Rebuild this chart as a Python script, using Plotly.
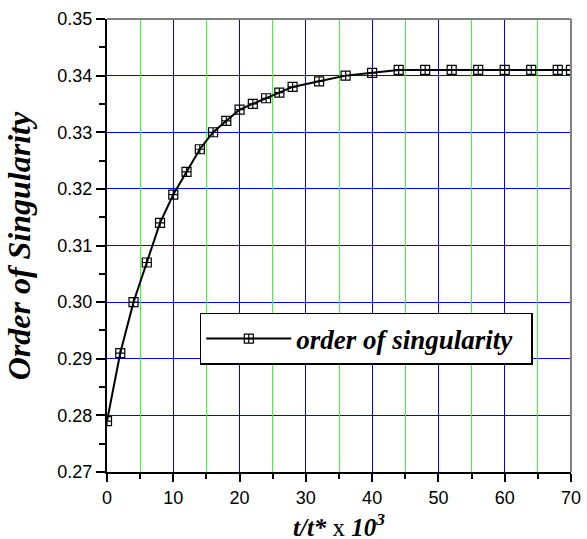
import plotly.graph_objects as go

t_values = [0, 2, 4, 6, 8, 10, 12, 14, 16, 18, 20, 22, 24, 26, 28, 32, 36, 40, 44, 48, 52, 56, 60, 64, 68, 70]
order_values = [0.279, 0.291, 0.300, 0.307, 0.314, 0.319, 0.323, 0.327, 0.330, 0.332, 0.334, 0.335,
                0.336, 0.337, 0.338, 0.339, 0.340, 0.3405, 0.341, 0.341, 0.341, 0.341, 0.341, 0.341, 0.341, 0.341]
series_name = "order of singularity"
x_title = "<b><i>t/t*</i></b> x <b><i>10<sup>3</sup></i></b>"
y_title = "<b><i>Order of Singularity</i></b>"

fig = go.Figure()
fig.add_trace(go.Scatter(
    x=t_values, y=order_values, mode="lines+markers",
    name="<b><i>" + series_name + "</i></b>&nbsp;&nbsp;",
    line=dict(color="black", width=2),
    marker=dict(symbol="square-cross-open", size=9, color="black", line=dict(width=1.2)),
))
# invisible helper trace on overlay axis to carry the green (minor) grid
fig.add_trace(go.Scatter(x=[0, 70], y=[0.27, 0.35], xaxis="x2", mode="none",
                         showlegend=False, hoverinfo="skip"))

# top and right frame lines (gray)
fig.add_shape(type="line", xref="paper", yref="paper", x0=0, x1=1, y0=1, y1=1,
              line=dict(color="#808080", width=2))
fig.add_shape(type="line", xref="paper", yref="paper", x0=1, x1=1, y0=0, y1=1,
              line=dict(color="#808080", width=2))

fig.add_annotation(text=y_title, xref="paper", yref="paper", x=-0.19, y=0.5,
                   textangle=-90, showarrow=False, xanchor="center", yanchor="middle",
                   font=dict(family="Liberation Serif", size=32, color="black"))
fig.add_annotation(text=x_title, xref="paper", yref="paper", x=0.5, y=-0.117,
                   showarrow=False, xanchor="center", yanchor="middle",
                   font=dict(family="Liberation Serif", size=25, color="black"))

fig.update_layout(
    width=587, height=539,
    margin=dict(l=107, r=16, t=19, b=67),
    paper_bgcolor="white", plot_bgcolor="white",
    showlegend=True,
    legend=dict(
        x=0.2, y=0.351, xanchor="left", yanchor="top",
        bgcolor="white", bordercolor="black", borderwidth=1.5,
        font=dict(family="Liberation Serif", size=27, color="black"),
        itemwidth=85,
    ),
    xaxis=dict(
        range=[0, 70], dtick=10, tick0=0, automargin=False,
        showline=True, linecolor="black", linewidth=2,
        ticks="outside", ticklen=8, tickwidth=1.5, tickcolor="black",
        showgrid=True, gridcolor="#0000ff", gridwidth=1,
        zeroline=False,
        minor=dict(dtick=5, ticks="outside", ticklen=5, tickcolor="black", tickwidth=1.5,
                   showgrid=False),
        tickfont=dict(family="Liberation Sans", size=18, color="black"),
    ),
    xaxis2=dict(
        range=[0, 70], tick0=5, dtick=10, overlaying="x", automargin=False,
        showgrid=True, gridcolor="#33ff33", gridwidth=1,
        showticklabels=False, ticks="", showline=False, zeroline=False,
    ),
    yaxis=dict(
        range=[0.27, 0.35], dtick=0.01, tick0=0.27, tickformat=".2f", automargin=False,
        showline=True, linecolor="black", linewidth=2,
        ticks="outside", ticklen=9, tickwidth=1.5, tickcolor="black",
        showgrid=True, gridcolor="#0000ff", gridwidth=1,
        zeroline=False,
        minor=dict(dtick=0.005, ticks="outside", ticklen=6, tickcolor="black", tickwidth=1.5,
                   showgrid=False),
        tickfont=dict(family="Liberation Sans", size=18, color="black"),
    ),
)

fig.write_html("out.html", config={"displayModeBar": False},
               post_script="document.body.style.margin='0';")
